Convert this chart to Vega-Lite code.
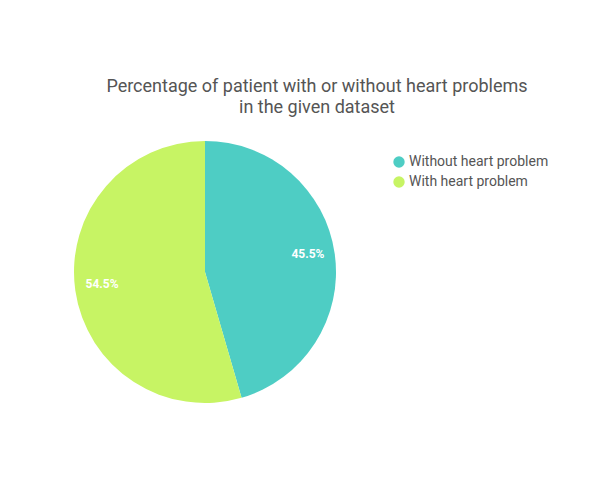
{
  "$schema": "https://vega.github.io/schema/vega-lite/v6.json",
  "autosize": "none",
  "width": 262,
  "height": 262,
  "padding": {"left": 74, "top": 141, "right": 264, "bottom": 97},
  "background": "white",
  "title": {
    "text": ["Percentage of patient with or without heart problems", "in the given dataset"],
    "anchor": "middle",
    "frame": "group",
    "dx": 112,
    "offset": 24,
    "font": "Roboto",
    "fontSize": 18,
    "fontWeight": "normal",
    "color": "#555555",
    "lineHeight": 21
  },
  "data": {
    "values": [
      {"category": "Without heart problem", "value": 45.5, "label": "45.5%"},
      {"category": "With heart problem", "value": 54.5, "label": "54.5%"}
    ]
  },
  "encoding": {
    "theta": {"field": "value", "type": "quantitative", "stack": true},
    "color": {
      "field": "category",
      "type": "nominal",
      "sort": ["Without heart problem", "With heart problem"],
      "scale": {"domain": ["Without heart problem", "With heart problem"], "range": ["#4ECDC4", "#C7F464"]},
      "legend": {
        "title": null,
        "orient": "none",
        "legendX": 318,
        "legendY": 14,
        "symbolType": "circle",
        "symbolSize": 130,
        "symbolOpacity": 1,
        "labelFont": "Roboto",
        "labelFontSize": 14,
        "labelColor": "#555555",
        "rowPadding": 6,
        "labelOffset": 3
      }
    },
    "order": {"field": "value", "type": "quantitative", "sort": "ascending"}
  },
  "layer": [
    {"mark": {"type": "arc", "outerRadius": 131, "stroke": null}},
    {
      "mark": {"type": "text", "radius": 104, "font": "Roboto", "fontSize": 12, "fontWeight": "bold", "fill": "white", "dy": -3},
      "encoding": {"text": {"field": "label"}, "color": {"value": "white"}}
    }
  ]
}
